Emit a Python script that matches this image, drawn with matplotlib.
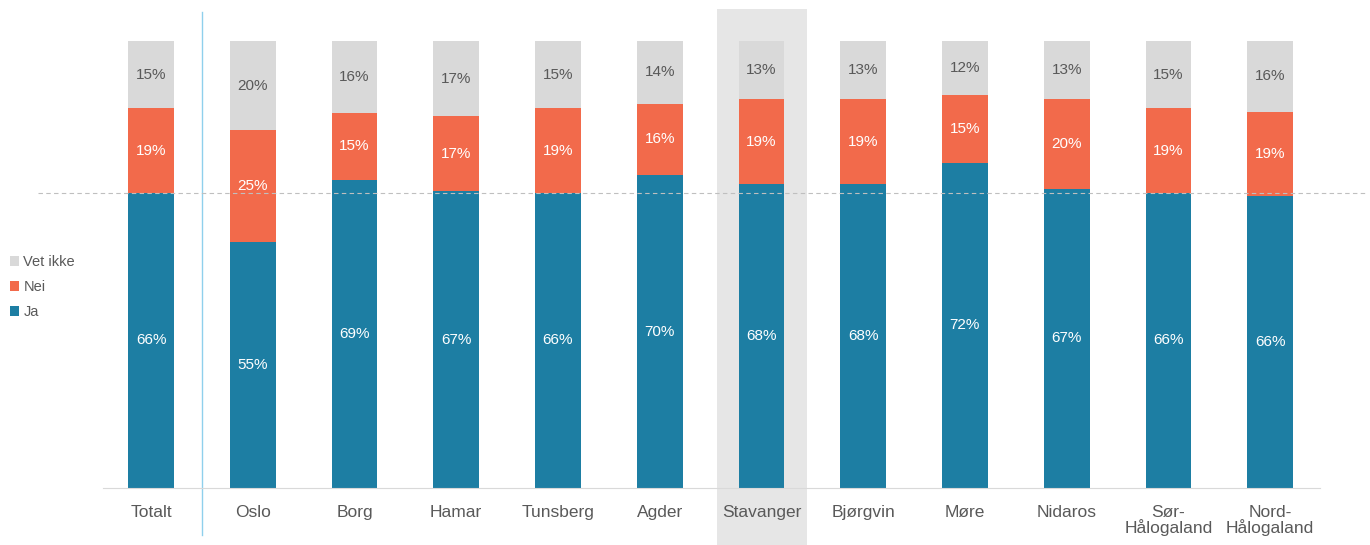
import numpy as np
import matplotlib
matplotlib.use("Agg")
import matplotlib.pyplot as plt

plt.rcParams['font.family'] = ['Liberation Sans', 'DejaVu Sans']

# Data (percent)
categories = ['Totalt', 'Oslo', 'Borg', 'Hamar', 'Tunsberg', 'Agder', 'Stavanger',
              'Bjørgvin', 'Møre', 'Nidaros', 'Sør-\nHålogaland', 'Nord-\nHålogaland']
ja = [66, 55, 69, 67, 66, 70, 68, 68, 72, 67, 66, 66]
nei = [19, 25, 15, 17, 19, 16, 19, 19, 15, 20, 19, 19]
vet_ikke = [15, 20, 16, 17, 15, 14, 13, 13, 12, 13, 15, 16]

c_ja = '#1d7ea3'
c_nei = '#f26a4b'
c_vet = '#d9d9d9'
txt_grey = '#595959'

ja_a = np.array(ja, dtype=float)
nei_a = np.array(nei, dtype=float)
vet_a = np.array(vet_ikke, dtype=float)
tot = ja_a + nei_a + vet_a
ja_s, nei_s, vet_s = ja_a / tot, nei_a / tot, vet_a / tot

fig = plt.figure(figsize=(13.7, 5.45), dpi=100)
ax = fig.add_axes([103 / 1370, 57 / 545, 1217 / 1370, 447 / 545])
x = np.arange(len(categories))
w = 0.45

# highlight for Stavanger
hi = categories.index('Stavanger')
ax.axvspan(hi - 0.435, hi + 0.45, ymin=-0.128, ymax=1.072, color='#e6e6e6',
           zorder=0, clip_on=False, lw=0)

b1 = ax.bar(x, ja_s, w, color=c_ja, label='Ja', zorder=2)
b2 = ax.bar(x, nei_s, w, bottom=ja_s, color=c_nei, label='Nei', zorder=2)
b3 = ax.bar(x, vet_s, w, bottom=ja_s + nei_s, color=c_vet, label='Vet ikke', zorder=2)

for i in range(len(categories)):
    ax.text(x[i], ja_s[i] / 2, f'{ja[i]}%', ha='center', va='center',
            color='white', fontsize=11, zorder=3)
    ax.text(x[i], ja_s[i] + nei_s[i] / 2, f'{nei[i]}%', ha='center', va='center',
            color='white', fontsize=11, zorder=3)
    ax.text(x[i], ja_s[i] + nei_s[i] + vet_s[i] / 2, f'{vet_ikke[i]}%', ha='center',
            va='center', color=txt_grey, fontsize=11, zorder=3)

# reference line at Totalt Ja level
ax.plot([-1.11, 11.94], [ja_s[0], ja_s[0]], ls=(0, (4, 3)), color='#bfbfbf',
        lw=0.8, clip_on=False, zorder=4)

# separator after Totalt
ax.plot([0.5, 0.5], [-0.105, 1.065], color='#8fd0ec', lw=1, clip_on=False, zorder=1)

ax.set_xlim(-0.472, 11.49)
ax.set_ylim(0, 1)
ax.set_xticks(x)
ax.set_xticklabels(categories, fontsize=12.5, color=txt_grey, linespacing=0.95)
ax.tick_params(axis='x', length=0, pad=12)
ax.set_yticks([])
for s in ['top', 'left', 'right']:
    ax.spines[s].set_visible(False)
ax.spines['bottom'].set_color('#d9d9d9')
ax.set_facecolor('none')

leg = fig.legend(handles=[b3, b2, b1], labels=['Vet ikke', 'Nei', 'Ja'],
                 loc='upper left', bbox_to_anchor=(0.0, 1 - 245 / 545), frameon=False,
                 fontsize=10.5, handlelength=0.6, handleheight=0.6, handletextpad=0.3,
                 labelspacing=0.75, borderaxespad=0.3)
for t in leg.get_texts():
    t.set_color(txt_grey)

fig.savefig('out.png', dpi=100)
